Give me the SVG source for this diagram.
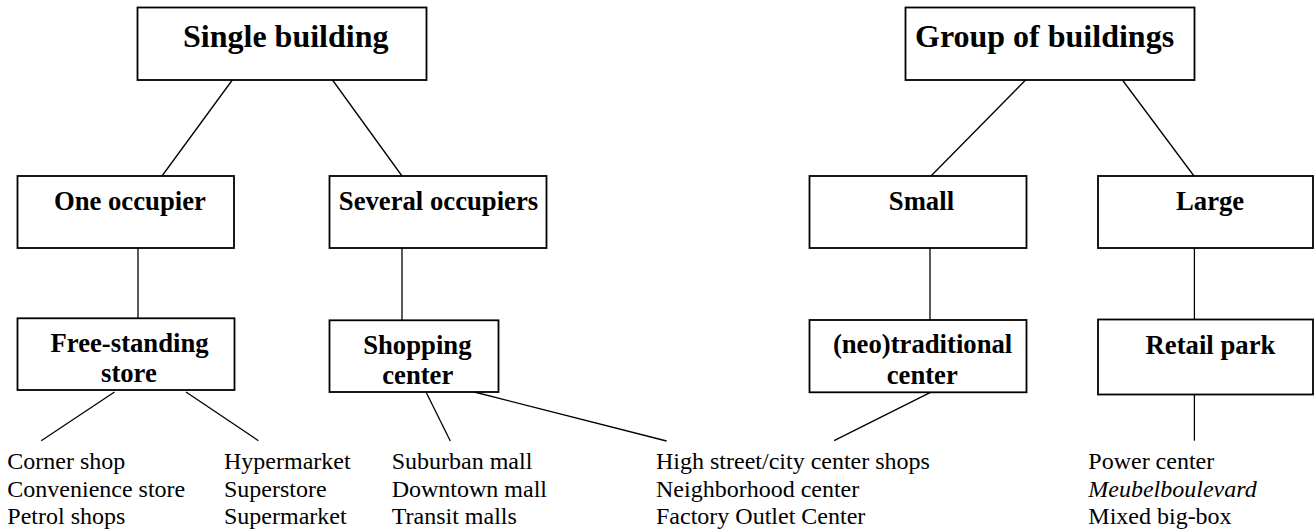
<svg xmlns="http://www.w3.org/2000/svg" width="1314" height="530" viewBox="0 0 1314 530">
<style>
.box{fill:#fff;stroke:#000;stroke-width:1.8}
.ln{stroke:#000;stroke-width:1.3;fill:none}
.t1{font-family:"Liberation Serif","Times New Roman",serif;font-weight:bold;font-size:32px;fill:#000}
.t2{font-family:"Liberation Serif","Times New Roman",serif;font-weight:bold;font-size:26.7px;fill:#000}
.t3{font-family:"Liberation Serif","Times New Roman",serif;font-size:24px;fill:#000}
.it{font-style:italic}
</style>
<rect width="1314" height="530" fill="#fff"/>
<g id="connectors">
<line class="ln" x1="232.3" y1="80" x2="162" y2="176"/>
<line class="ln" x1="332.5" y1="80" x2="402" y2="176"/>
<line class="ln" x1="1025.6" y1="80" x2="931" y2="176"/>
<line class="ln" x1="1122.4" y1="80" x2="1194" y2="176"/>
<line class="ln" x1="138" y1="248" x2="138" y2="318"/>
<line class="ln" x1="402" y1="248" x2="402" y2="320"/>
<line class="ln" x1="930" y1="248" x2="930" y2="320"/>
<line class="ln" x1="1194.4" y1="248" x2="1194.4" y2="319.5"/>
<line class="ln" x1="114.5" y1="392" x2="41.2" y2="440.7"/>
<line class="ln" x1="186" y1="392" x2="258.4" y2="440.7"/>
<line class="ln" x1="426" y1="392" x2="450.3" y2="441"/>
<line class="ln" x1="474.3" y1="392" x2="666.6" y2="441"/>
<line class="ln" x1="930.5" y1="392.3" x2="834.1" y2="440.7"/>
<line class="ln" x1="1194.4" y1="394.5" x2="1194.4" y2="440.7"/>
</g>
<g id="single-building">
<rect class="box" x="137.5" y="7.5" width="289" height="72.5"/>
<text class="t1" x="183" y="46.7">Single building</text>
</g>
<g id="group-of-buildings">
<rect class="box" x="905.5" y="7.5" width="289" height="72.5"/>
<text class="t1" x="915" y="46.7">Group of buildings</text>
</g>
<g id="one-occupier">
<rect class="box" x="17.5" y="176" width="216.5" height="72"/>
<text class="t2" x="53.9" y="209.5">One occupier</text>
</g>
<g id="several-occupiers">
<rect class="box" x="329.5" y="176" width="217" height="72"/>
<text class="t2" x="338.8" y="209.5">Several occupiers</text>
</g>
<g id="small">
<rect class="box" x="809.5" y="176" width="217" height="72"/>
<text class="t2" x="888.8" y="209.5">Small</text>
</g>
<g id="large">
<rect class="box" x="1098" y="176" width="215" height="72"/>
<text class="t2" x="1176" y="209.5">Large</text>
</g>
<g id="free-standing-store">
<rect class="box" x="17.5" y="318.3" width="217" height="71.7"/>
<text class="t2" x="50.5" y="351.7">Free-standing</text>
<text class="t2" x="101" y="381.7">store</text>
</g>
<g id="shopping-center">
<rect class="box" x="329.5" y="320.3" width="169" height="71.7"/>
<text class="t2" x="363.2" y="354">Shopping</text>
<text class="t2" x="382.2" y="384.3">center</text>
</g>
<g id="neotraditional-center">
<rect class="box" x="809.5" y="320" width="217" height="72.3"/>
<text class="t2" x="832.9" y="353.3">(neo)traditional</text>
<text class="t2" x="886.7" y="384">center</text>
</g>
<g id="retail-park">
<rect class="box" x="1098" y="319.5" width="215" height="75"/>
<text class="t2" x="1145.6" y="354">Retail park</text>
</g>
<g id="list-corner">
<text class="t3" x="7.3" y="469">Corner shop</text>
<text class="t3" x="7.3" y="496.5">Convenience store</text>
<text class="t3" x="7.3" y="524">Petrol shops</text>
</g>
<g id="list-hyper">
<text class="t3" x="224" y="469">Hypermarket</text>
<text class="t3" x="224" y="496.5">Superstore</text>
<text class="t3" x="224" y="524">Supermarket</text>
</g>
<g id="list-malls">
<text class="t3" x="391.7" y="469">Suburban mall</text>
<text class="t3" x="391.7" y="496.5">Downtown mall</text>
<text class="t3" x="391.7" y="524">Transit malls</text>
</g>
<g id="list-traditional">
<text class="t3" x="656" y="469">High street/city center shops</text>
<text class="t3" x="656" y="496.5">Neighborhood center</text>
<text class="t3" x="656" y="524">Factory Outlet Center</text>
</g>
<g id="list-retail">
<text class="t3" x="1088.3" y="469">Power center</text>
<text class="t3 it" x="1088.3" y="496.5">Meubelboulevard</text>
<text class="t3" x="1088.3" y="524">Mixed big-box</text>
</g>
</svg>
